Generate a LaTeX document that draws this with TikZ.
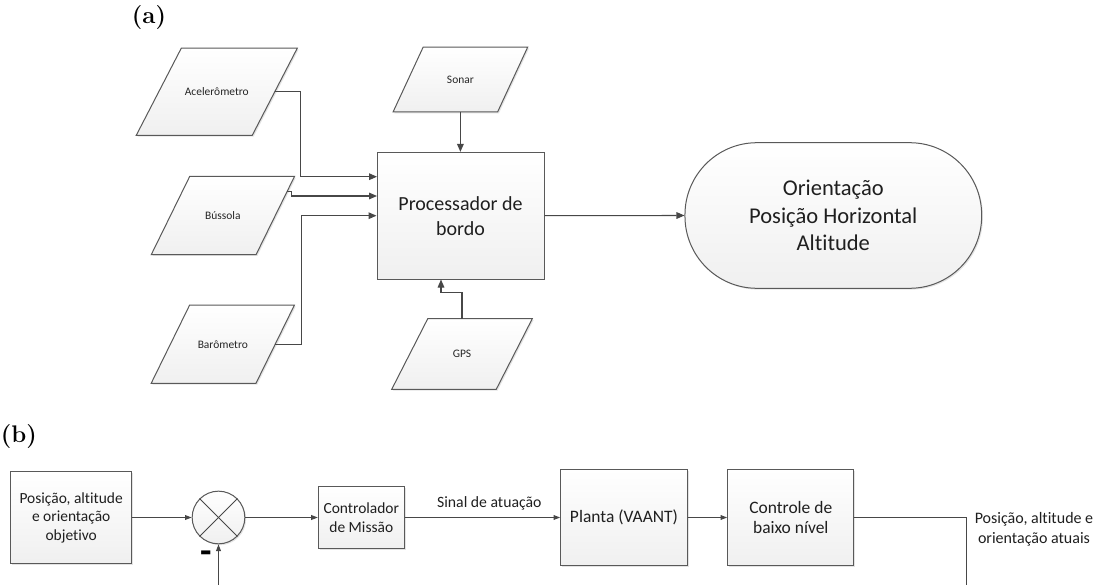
\documentclass[tikz,border=0pt]{standalone}
\usepackage{fontspec}
\newfontfamily\carl[Ligatures=CommonOff]{Carlito}
\usetikzlibrary{arrows.meta,backgrounds,calc,shadows}
\newcommand\paral[2]{%
  \path[parafill] ([xshift=#2]#1.north west) -- ([xshift=#2]#1.north east) -- ([xshift=-#2]#1.south east) -- ([xshift=-#2]#1.south west) -- cycle;}
\newcommand\fs[2]{\fontsize{#1}{#2}\selectfont}
\begin{document}
\begin{tikzpicture}[x=0.75pt,y=-0.75pt,
  ln/.style={draw=black!72, line width=0.8pt},
  arr/.style={ln, -{Triangle[length=6pt,width=5pt]}},
  arrb/.style={ln, -{Triangle[length=5pt,width=3.6pt]}},
  shadefill/.style={draw=black!65, line width=0.75pt, top color=white, bottom color=black!6,
    drop shadow={shadow xshift=1pt, shadow yshift=-1pt, opacity=0.18, fill=black!60}},
  parafill/.style={shadefill},
  paratext/.style={draw=none, inner sep=0pt, text=black!85, font=\carl\fs{8.6}{10}},
  box/.style={shadefill, inner sep=0pt, align=center, text=black!88},
  lbl/.style={font=\bfseries\fs{18}{20}, inner sep=0pt}
]
\useasboundingbox (0,0) rectangle (1100,585);

% ---------- (a) ----------
\node[lbl] (la) at (149,18) {(a)};

\node[paratext, minimum width=86.6pt, minimum height=65pt] (acc) at (216.8,91.7) {Acelerômetro};
\node[paratext, minimum width=78.2pt, minimum height=58.2pt] (bus) at (222.9,215.5) {Bússola};
\node[paratext, minimum width=78.2pt, minimum height=58.2pt] (bar) at (222.8,344.2) {Barômetro};
\node[paratext, minimum width=78pt, minimum height=48.3pt] (sonar) at (460.4,79.5) {Sonar};
\node[paratext, minimum width=78pt, minimum height=52.5pt] (gps) at (462,354) {GPS};
\begin{scope}[on background layer]
  \paral{acc}{16.9pt}
  \paral{bus}{14.4pt}
  \paral{bar}{14.4pt}
  \paral{sonar}{11.3pt}
  \paral{gps}{13.5pt}
\end{scope}

\node[box, minimum width=125.25pt, minimum height=95pt, font=\carl\fs{15}{18.75}] (proc) at (460.5,215.7) {Processador de\\bordo};
\node[box, minimum width=222.5pt, minimum height=109.2pt, rounded corners=54pt, font=\carl\fs{16.9}{20.6}] (out) at (833.3,215.5) {Orientação\\Posição Horizontal\\Altitude};

\coordinate (pin1) at (377,176.7);
\coordinate (pin2) at (377,196);
\coordinate (busout) at (286.8,191.7);
\coordinate (gpsbend) at (441,292.7);

\draw[arr] (acc.east) -- ++(26,0) |- (pin1);
\draw[arr] (busout) -- ++(5,0) |- (pin2);
\draw[arr] (bar.east) -- ++(26,0) |- (proc.west);
\draw[arr] (sonar.south) -- (sonar.south |- proc.north);
\draw[arr] (gps.north) |- (gpsbend) -- (gpsbend |- proc.south);
\draw[arr] (proc.east) -- (out.west);

% ---------- (b) ----------
\node[lbl] (lb) at (19,437) {(b)};

\node[box, minimum width=90.75pt, minimum height=68.7pt, font=\carl\fs{11.6}{13.9}] (goal) at (71.2,517.5) {Posição, altitude\\e orientação\\objetivo};
\node[shadefill, circle, minimum size=39.5pt, inner sep=0pt] (sum) at (218.5,517.5) {};
\draw[ln, line width=0.6pt] (sum.north west) -- (sum.south east);
\draw[ln, line width=0.6pt] (sum.north east) -- (sum.south west);
\node[inner sep=0pt, font=\carl\bfseries\fs{28}{28}] (minus) at (206,557) {-};
\node[box, minimum width=64.5pt, minimum height=46.2pt, font=\carl\fs{11.6}{14.25}] (ctrl) at (361.3,517.5) {Controlador\\de Missão};
\node[box, minimum width=95pt, minimum height=72.5pt, font=\carl\fs{13.1}{15.5}] (plant) at (624,517.5) {Planta (VAANT)};
\node[box, minimum width=94.7pt, minimum height=72.5pt, font=\carl\fs{13.1}{15.5}] (low) at (790.8,517.5) {Controle de\\baixo nível};
\node[inner sep=0pt, font=\carl\fs{11.8}{14}, text=black!88] (sig) at (489.3,503.3) {Sinal de atuação};
\node[inner sep=0pt, align=center, font=\carl\fs{12}{15}, text=black!88] (cur) at (1034,529.3) {Posição, altitude e\\orientação atuais};

\coordinate (fbL) at (218.5,590);
\coordinate (fbR) at (966.7,590);

\draw[arrb] (goal.east) -- (sum.west);
\draw[arrb] (sum.east) -- (ctrl.west);
\draw[arrb] (ctrl.east) -- (plant.west);
\draw[arrb] (plant.east) -- (low.west);
\draw[ln] (low.east) -| (fbR);
\draw[arrb] (fbL) -- (sum.south);
\end{tikzpicture}
\end{document}
